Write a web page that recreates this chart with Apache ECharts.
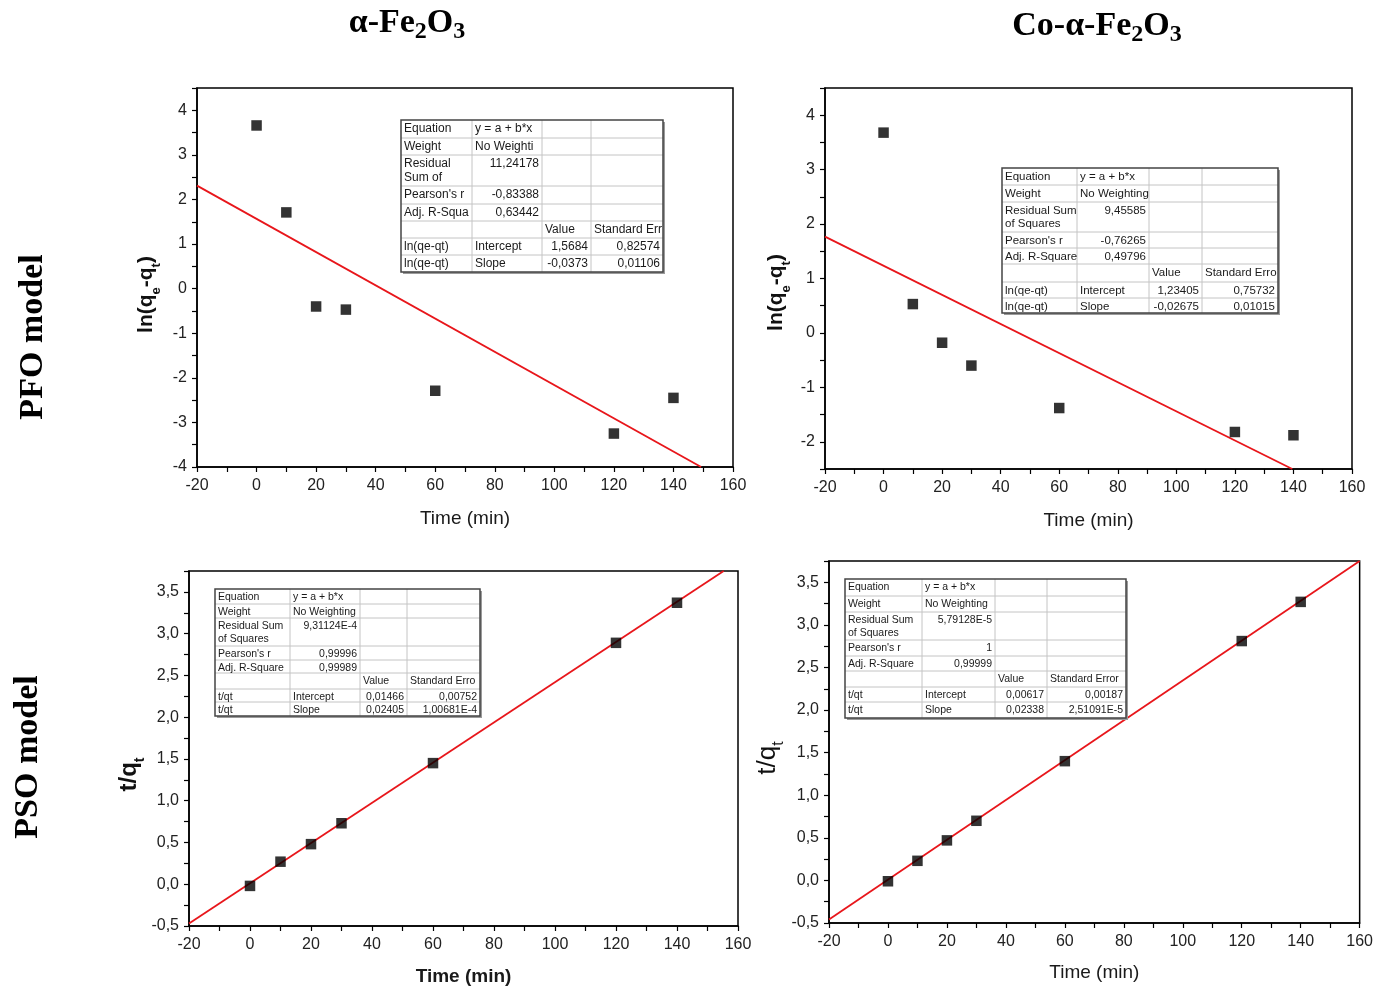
<!DOCTYPE html>
<html><head><meta charset="utf-8">
<script src="https://cdn.jsdelivr.net/npm/echarts@6/dist/echarts.min.js"></script>
<style>html,body{margin:0;padding:0;background:#fff}#c{width:1376px;height:987px}</style>
</head><body><div id="c"></div>
<script>
// ---- data ----
const timeMin = [0, 10, 20, 30, 60, 120, 140];
const xTicks = [-20, 0, 20, 40, 60, 80, 100, 120, 140, 160];
const pfoFe = [3.66, 1.71, -0.40, -0.47, -2.29, -3.25, -2.45];
const pfoCo = [3.68, 0.53, -0.18, -0.60, -1.38, -1.82, -1.88];
const psoFe = [-0.02, 0.27, 0.48, 0.73, 1.45, 2.89, 3.37];
const psoCo = [-0.01, 0.23, 0.47, 0.70, 1.40, 2.81, 3.27];
// fitted lines (end points)
const fitPfoFeX = [-20, 149.3], fitPfoFeY = [2.31, -4.0];
const fitPfoCoX = [-20, 139.6], fitPfoCoY = [1.77, -2.5];
const fitPsoFeX = [-20, 155.3], fitPsoFeY = [-0.47, 3.75];
const fitPsoCoX = [-20, 160], fitPsoCoY = [-0.46, 3.75];
// y tick labels
const yTicksPfoFe = [-4, -3, -2, -1, 0, 1, 2, 3, 4];
const yTicksPfoCo = [-2, -1, 0, 1, 2, 3, 4];
const yTicksPso = [-0.5, 0, 0.5, 1, 1.5, 2, 2.5, 3, 3.5];
// fit tables
const tablePfoFe = [
  ['Equation', 'y = a + b*x', '', ''],
  ['Weight', 'No Weighti', '', ''],
  ['Residual\nSum of', '11,24178', '', ''],
  ["Pearson's r", '-0,83388', '', ''],
  ['Adj. R-Squa', '0,63442', '', ''],
  ['', '', 'Value', 'Standard Err'],
  ['ln(qe-qt)', 'Intercept', '1,5684', '0,82574'],
  ['ln(qe-qt)', 'Slope', '-0,0373', '0,01106']
];
const tablePfoCo = [
  ['Equation', 'y = a + b*x', '', ''],
  ['Weight', 'No Weighting', '', ''],
  ['Residual Sum\nof Squares', '9,45585', '', ''],
  ["Pearson's r", '-0,76265', '', ''],
  ['Adj. R-Square', '0,49796', '', ''],
  ['', '', 'Value', 'Standard Erro'],
  ['ln(qe-qt)', 'Intercept', '1,23405', '0,75732'],
  ['ln(qe-qt)', 'Slope', '-0,02675', '0,01015']
];
const tablePsoFe = [
  ['Equation', 'y = a + b*x', '', ''],
  ['Weight', 'No Weighting', '', ''],
  ['Residual Sum\nof Squares', '9,31124E-4', '', ''],
  ["Pearson's r", '0,99996', '', ''],
  ['Adj. R-Square', '0,99989', '', ''],
  ['', '', 'Value', 'Standard Erro'],
  ['t/qt', 'Intercept', '0,01466', '0,00752'],
  ['t/qt', 'Slope', '0,02405', '1,00681E-4']
];
const tablePsoCo = [
  ['Equation', 'y = a + b*x', '', ''],
  ['Weight', 'No Weighting', '', ''],
  ['Residual Sum\nof Squares', '5,79128E-5', '', ''],
  ["Pearson's r", '1', '', ''],
  ['Adj. R-Square', '0,99999', '', ''],
  ['', '', 'Value', 'Standard Error'],
  ['t/qt', 'Intercept', '0,00617', '0,00187'],
  ['t/qt', 'Slope', '0,02338', '2,51091E-5']
];

// ---- layout ----
const grids = [
  {left: 197, top: 88, width: 536, height: 379},
  {left: 825, top: 88, width: 527, height: 381},
  {left: 189, top: 571, width: 549, height: 359},
  {left: 829, top: 561, width: 533, height: 362}
];
const FONT = 'Arial, "Liberation Sans", sans-serif';
const SERIF = '"Times New Roman", "Liberation Serif", serif';

function xAxis(i, bold, gap) {
  return {
    type: 'value', gridIndex: i, min: xTicks[0], max: xTicks[xTicks.length - 1], interval: 20,
    name: 'Time (min)', nameLocation: 'middle', nameGap: gap,
    nameTextStyle: {fontFamily: FONT, fontSize: 19, color: '#1a1a1a', fontWeight: bold ? 'bold' : 'normal'},
    axisLine: {show: true, onZero: false, lineStyle: {color: '#000', width: 1.5}},
    axisTick: {show: true, inside: false, length: 5, lineStyle: {color: '#000', width: 1.2}},
    minorTick: {show: true, splitNumber: 2, length: 5, lineStyle: {color: '#000', width: 1.2}},
    splitLine: {show: false},
    axisLabel: {margin: 11, fontFamily: FONT, fontSize: 16, color: '#222'}
  };
}
function yAxis(i, min, max, step, labels, digits, name, nameGap, shift) {
  const style = Object.assign({}, name.style, {padding: [0, 2 * shift, 0, 0]});
  return {
    type: 'value', gridIndex: i, min: min, max: max, interval: step,
    name: name.text, nameLocation: 'middle', nameGap: nameGap, nameRotate: 90,
    nameTextStyle: style,
    axisLine: {show: true, onZero: false, lineStyle: {color: '#000', width: 1.5}},
    axisTick: {show: true, inside: false, length: 5, lineStyle: {color: '#000', width: 1.2}},
    splitLine: {show: false},
    axisLabel: {
      margin: 10, fontFamily: FONT, fontSize: 16, color: '#222',
      formatter: function (v) {
        const hit = labels.some(t => Math.abs(t - v) < 1e-6);
        if (!hit) return '';
        return v.toFixed(digits).replace('.', ',');
      }
    }
  };
}
function subName(text, size, bold) {
  const w = bold ? 'bold' : 'normal';
  return {
    text: text, style: {
      fontFamily: FONT, fontWeight: w, color: '#111',
      rich: {
        n: {fontFamily: FONT, fontWeight: w, fontSize: size, lineHeight: size + 6, verticalAlign: 'top', color: '#111'},
        s: {fontFamily: FONT, fontWeight: w, fontSize: Math.round(size * 0.6), lineHeight: Math.round(size * 0.6), verticalAlign: 'bottom', color: '#111'}
      }
    }
  };
}
const nameLn = subName('{n|ln(q}{s|e}{n|-q}{s|t}{n|)}', 21, true);
const nameTqB = subName('{n|t/q}{s|t}', 24, true);
const nameTqN = subName('{n|t/q}{s|t}', 26, false);

function scatter(i, ys) {
  return {
    type: 'scatter', xAxisIndex: i, yAxisIndex: i, symbol: 'rect', symbolSize: 10.5,
    itemStyle: {color: '#000'}, z: 3,
    data: timeMin.map((t, k) => [t, ys[k]])
  };
}
function fit(i, xs, ys) {
  return {
    type: 'line', xAxisIndex: i, yAxisIndex: i, showSymbol: false, symbol: 'none',
    lineStyle: {color: '#e8161b', width: 1.8}, z: 2, silent: true, clip: true,
    data: xs.map((x, k) => [x, ys[k]])
  };
}

// tables as graphic annotations
function table(cols, rows, cells, fontSize) {
  const els = [];
  const x0 = cols[0], x1 = cols[cols.length - 1], y0 = rows[0], y1 = rows[rows.length - 1];
  els.push({type: 'rect', shape: {x: x0 + 2, y: y0 + 2, width: x1 - x0, height: y1 - y0},
    style: {fill: '#9a9a9a'}, z: 10});
  els.push({type: 'rect', shape: {x: x0, y: y0, width: x1 - x0, height: y1 - y0},
    style: {fill: '#fff', stroke: 'none'}, z: 11});
  for (let r = 1; r < rows.length - 1; r++) {
    els.push({type: 'line', shape: {x1: x0, y1: rows[r], x2: x1, y2: rows[r]}, style: {stroke: '#c4c4c4', lineWidth: 1}, z: 12});
  }
  for (let c = 1; c < cols.length - 1; c++) {
    els.push({type: 'line', shape: {x1: cols[c], y1: y0, x2: cols[c], y2: y1}, style: {stroke: '#c4c4c4', lineWidth: 1}, z: 12});
  }
  els.push({type: 'rect', shape: {x: x0, y: y0, width: x1 - x0, height: y1 - y0},
    style: {fill: 'none', stroke: '#444', lineWidth: 1.5}, z: 13});
  cells.forEach((row, r) => {
    row.forEach((txt, c) => {
      if (!txt) return;
      const num = /^-?[0-9,]+(E-?[0-9]+)?$/.test(txt);
      const x = num ? cols[c + 1] - 3 : cols[c] + 3;
      els.push({type: 'text', x: x, y: rows[r] + 2, z: 14,
        style: {text: txt, fill: '#1a1a1a', font: fontSize + 'px ' + FONT, lineHeight: fontSize + 2,
          align: num ? 'right' : 'left', verticalAlign: 'top', textAlign: num ? 'right' : 'left', textVerticalAlign: 'top'}});
    });
  });
  return els;
}

const titleRich = {
  a: {fontFamily: SERIF, fontWeight: 'bold', fontSize: 34, lineHeight: 38, verticalAlign: 'top', color: '#000'},
  s: {fontFamily: SERIF, fontWeight: 'bold', fontSize: 24, lineHeight: 25, verticalAlign: 'bottom', color: '#000'}
};
const graphics = [
  {type: 'text', x: 407, y: 25, z: 20, style: {text: '{a|α-Fe}{s|2}{a|O}{s|3}', rich: titleRich,
    align: 'center', verticalAlign: 'middle', textAlign: 'center', textVerticalAlign: 'middle'}},
  {type: 'text', x: 1097, y: 28, z: 20, style: {text: '{a|Co-α-Fe}{s|2}{a|O}{s|3}', rich: titleRich,
    align: 'center', verticalAlign: 'middle', textAlign: 'center', textVerticalAlign: 'middle'}},
  {type: 'text', x: 33, y: 337, rotation: Math.PI / 2, z: 20, style: {text: 'PFO model', fill: '#000',
    font: 'bold 34px ' + SERIF, align: 'center', verticalAlign: 'middle', textAlign: 'center', textVerticalAlign: 'middle'}},
  {type: 'text', x: 28, y: 757, rotation: Math.PI / 2, z: 20, style: {text: 'PSO model', fill: '#000',
    font: 'bold 34px ' + SERIF, align: 'center', verticalAlign: 'middle', textAlign: 'center', textVerticalAlign: 'middle'}}
].concat(
  table([401, 472, 542, 591, 663], [120, 138, 155, 186, 204, 221, 238, 255, 272], tablePfoFe, 12),
  table([1002, 1077, 1149, 1202, 1278], [168, 185, 202, 232, 248, 264, 282, 298, 313], tablePfoCo, 11.5),
  table([215, 290, 360, 407, 480], [589, 604, 618, 646, 660, 673, 689, 702, 716], tablePsoFe, 10.5),
  table([845, 922, 995, 1047, 1126], [579, 596, 612, 640, 656, 671, 687, 702, 718], tablePsoCo, 10.5)
);

const option = {
  backgroundColor: '#fff',
  animation: false,
  grid: grids.map(g => Object.assign({show: true, borderColor: '#000', borderWidth: 1.5, backgroundColor: 'transparent', containLabel: false}, g)),
  xAxis: [xAxis(0, false, 42), xAxis(1, false, 42), xAxis(2, true, 41), xAxis(3, false, 40)],
  yAxis: [
    yAxis(0, -4, 4.5, 0.5, yTicksPfoFe, 0, nameLn, 34, 17),
    yAxis(1, -2.5, 4.5, 0.5, yTicksPfoCo, 0, nameLn, 32, 14),
    yAxis(2, -0.5, 3.75, 0.25, yTicksPso, 1, nameTqB, 41, 26),
    yAxis(3, -0.5, 3.75, 0.25, yTicksPso, 1, nameTqN, 42, 16)
  ],
  series: [
    fit(0, fitPfoFeX, fitPfoFeY), scatter(0, pfoFe),
    fit(1, fitPfoCoX, fitPfoCoY), scatter(1, pfoCo),
    fit(2, fitPsoFeX, fitPsoFeY), scatter(2, psoFe),
    fit(3, fitPsoCoX, fitPsoCoY), scatter(3, psoCo)
  ],
  graphic: graphics
};
const chart = echarts.init(document.getElementById('c'), null, {renderer: 'canvas'});
chart.setOption(option);
</script>
</body></html>
